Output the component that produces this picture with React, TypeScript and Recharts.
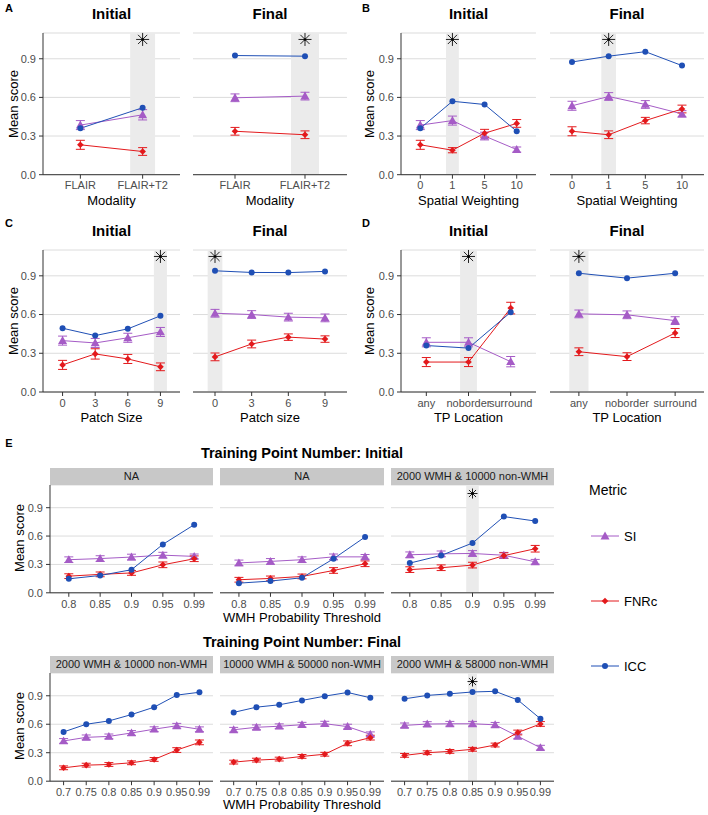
import { LineChart, Line, XAxis, YAxis, CartesianGrid, ErrorBar, ReferenceArea, ReferenceDot } from "recharts"

const FONT = "'Liberation Sans', Arial, Helvetica, sans-serif"
const BLUE = "#1f4fb5"
const PURPLE = "#a55bc6"
const RED = "#e3191c"
const INK = "#4d4d4d"
const AXIS = "#333333"

const yTicks = [0, 0.3, 0.6, 0.9]

// categories
const modality = ["FLAIR", "FLAIR+T2"]
const weighting = ["0", "1", "5", "10"]
const patch = ["0", "3", "6", "9"]
const location = ["any", "noborder", "surround"]
const thrInitial = ["0.8", "0.85", "0.9", "0.95", "0.99"]
const thrFinal = ["0.7", "0.75", "0.8", "0.85", "0.9", "0.95", "0.99"]

type Scores = { icc: number[]; si: number[]; fnrc: number[]; siErr: number[]; fnrcErr: number[] }

// A - modality
const aInitial: Scores = { icc: [0.36, 0.52], si: [0.385, 0.465], fnrc: [0.232, 0.18], siErr: [0.035, 0.04], fnrcErr: [0.035, 0.03] }
const aFinal: Scores = { icc: [0.925, 0.92], si: [0.597, 0.61], fnrc: [0.337, 0.31], siErr: [0.03, 0.03], fnrcErr: [0.03, 0.03] }

// B - spatial weighting
const bInitial: Scores = {
  icc: [0.36, 0.57, 0.545, 0.337],
  si: [0.385, 0.42, 0.3, 0.195],
  fnrc: [0.232, 0.19, 0.322, 0.398],
  siErr: [0.035, 0.035, 0.03, 0.02],
  fnrcErr: [0.035, 0.02, 0.03, 0.03],
}
const bFinal: Scores = {
  icc: [0.875, 0.92, 0.955, 0.847],
  si: [0.535, 0.607, 0.545, 0.472],
  fnrc: [0.337, 0.31, 0.42, 0.51],
  siErr: [0.035, 0.03, 0.03, 0.025],
  fnrcErr: [0.035, 0.03, 0.025, 0.03],
}

// C - patch size
const cInitial: Scores = {
  icc: [0.494, 0.437, 0.489, 0.59],
  si: [0.398, 0.38, 0.42, 0.465],
  fnrc: [0.21, 0.295, 0.256, 0.195],
  siErr: [0.035, 0.035, 0.035, 0.035],
  fnrcErr: [0.035, 0.04, 0.035, 0.03],
}
const cFinal: Scores = {
  icc: [0.939, 0.926, 0.925, 0.934],
  si: [0.61, 0.6, 0.58, 0.574],
  fnrc: [0.272, 0.372, 0.425, 0.41],
  siErr: [0.03, 0.03, 0.03, 0.03],
  fnrcErr: [0.03, 0.03, 0.025, 0.025],
}

// D - TP location
const dInitial: Scores = {
  icc: [0.36, 0.34, 0.618],
  si: [0.385, 0.385, 0.235],
  fnrc: [0.232, 0.232, 0.65],
  siErr: [0.035, 0.035, 0.04],
  fnrcErr: [0.035, 0.035, 0.045],
}
const dFinal: Scores = {
  icc: [0.92, 0.882, 0.92],
  si: [0.605, 0.598, 0.553],
  fnrc: [0.312, 0.274, 0.457],
  siErr: [0.03, 0.03, 0.03],
  fnrcErr: [0.03, 0.03, 0.035],
}

// E - training point number, initial
const eInitialNA1: Scores = {
  icc: [0.148, 0.183, 0.244, 0.512, 0.72],
  si: [0.35, 0.362, 0.378, 0.398, 0.385],
  fnrc: [0.176, 0.195, 0.21, 0.296, 0.36],
  siErr: [0.03, 0.03, 0.03, 0.03, 0.025],
  fnrcErr: [0.025, 0.025, 0.025, 0.03, 0.03],
}
const eInitialNA2: Scores = {
  icc: [0.102, 0.124, 0.159, 0.36, 0.59],
  si: [0.316, 0.332, 0.35, 0.38, 0.38],
  fnrc: [0.138, 0.152, 0.173, 0.236, 0.307],
  siErr: [0.03, 0.03, 0.03, 0.03, 0.025],
  fnrcErr: [0.025, 0.025, 0.025, 0.03, 0.03],
}
const eInitial2k10k: Scores = {
  icc: [0.314, 0.395, 0.526, 0.806, 0.759],
  si: [0.402, 0.412, 0.416, 0.397, 0.328],
  fnrc: [0.245, 0.265, 0.293, 0.393, 0.466],
  siErr: [0.03, 0.03, 0.03, 0.03, 0.025],
  fnrcErr: [0.03, 0.03, 0.03, 0.03, 0.035],
}

// E - training point number, final
const eFinal2k10k: Scores = {
  icc: [0.519, 0.6, 0.635, 0.702, 0.78, 0.907, 0.937],
  si: [0.424, 0.462, 0.472, 0.508, 0.548, 0.584, 0.547],
  fnrc: [0.141, 0.169, 0.176, 0.194, 0.229, 0.328, 0.409],
  siErr: [0.025, 0.025, 0.025, 0.025, 0.025, 0.025, 0.025],
  fnrcErr: [0.02, 0.02, 0.02, 0.02, 0.02, 0.025, 0.025],
}
const eFinal10k50k: Scores = {
  icc: [0.725, 0.78, 0.805, 0.851, 0.896, 0.935, 0.879],
  si: [0.542, 0.568, 0.579, 0.595, 0.606, 0.575, 0.494],
  fnrc: [0.201, 0.222, 0.233, 0.261, 0.284, 0.399, 0.459],
  siErr: [0.025, 0.025, 0.025, 0.025, 0.025, 0.025, 0.025],
  fnrcErr: [0.02, 0.02, 0.02, 0.02, 0.02, 0.025, 0.025],
}
const eFinal2k58k: Scores = {
  icc: [0.868, 0.904, 0.921, 0.94, 0.947, 0.856, 0.658],
  si: [0.588, 0.602, 0.605, 0.605, 0.594, 0.473, 0.353],
  fnrc: [0.272, 0.3, 0.314, 0.336, 0.381, 0.513, 0.603],
  siErr: [0.025, 0.025, 0.025, 0.025, 0.025, 0.025, 0.025],
  fnrcErr: [0.02, 0.02, 0.02, 0.02, 0.02, 0.025, 0.025],
}

const STAR_Y = 1.05

const circleDot = (p: any) => <circle key={`c${p.index}`} cx={p.cx} cy={p.cy} r={3} fill={BLUE} />

const triangleDot = (p: any) => {
  const s = 4.5
  return (
    <path
      key={`t${p.index}`}
      d={`M${p.cx},${p.cy - s}L${p.cx + s},${p.cy + s * 0.75}L${p.cx - s},${p.cy + s * 0.75}Z`}
      fill={PURPLE}
    />
  )
}

const diamondDot = (p: any) => {
  const s = 3.3
  return (
    <path
      key={`d${p.index}`}
      d={`M${p.cx},${p.cy - s}L${p.cx + s},${p.cy}L${p.cx},${p.cy + s}L${p.cx - s},${p.cy}Z`}
      fill={RED}
    />
  )
}

function Asterisk({ cx, cy, r }: { cx: number; cy: number; r: number }) {
  const d = r * Math.SQRT1_2
  return (
    <g stroke="#222" strokeWidth={1}>
      <line x1={cx - r} y1={cy} x2={cx + r} y2={cy} />
      <line x1={cx} y1={cy - r} x2={cx} y2={cy + r} />
      <line x1={cx - d} y1={cy - d} x2={cx + d} y2={cy + d} />
      <line x1={cx - d} y1={cy + d} x2={cx + d} y2={cy - d} />
      <circle cx={cx} cy={cy} r={1.2} fill="#000" stroke="none" />
    </g>
  )
}

interface FacetProps {
  x0: number
  x1: number
  top: number
  bottom: number
  cats: string[]
  d: Scores
  star?: number
  showY?: boolean
  ymax: number
  starR?: number
}

function Facet({ x0, x1, top, bottom, cats, d, star, showY = false, ymax, starR = 6.5 }: FacetProps) {
  const yw = showY ? 40 : 0
  const ml = showY ? 0 : 8
  const mr = 8
  const mt = 10
  const xh = 20
  const rows = cats.map((c, i) => ({
    x: i,
    name: c,
    icc: d.icc[i],
    si: d.si[i],
    fnrc: d.fnrc[i],
    siErr: d.siErr[i],
    fnrcErr: d.fnrcErr[i],
  }))

  return (
    <div style={{ position: "absolute", left: x0 - yw - ml, top: top - mt }}>
      <LineChart
        width={x1 - x0 + yw + ml + mr}
        height={bottom - top + mt + xh}
        data={rows}
        margin={{ top: mt, right: mr, bottom: 0, left: ml }}
        style={{ fontFamily: FONT }}
      >
        {star !== undefined && (
          <ReferenceArea x1={star - 0.2} x2={star + 0.2} fill="#ebebeb" fillOpacity={1} stroke="none" />
        )}
        <CartesianGrid vertical={false} stroke="#dcdcdc" />
        <XAxis
          type="number"
          dataKey="x"
          domain={[-0.6, cats.length - 0.4]}
          ticks={cats.map((_, i) => i)}
          tickFormatter={(v) => cats[v]}
          interval={0}
          height={xh}
          tickSize={4}
          tickMargin={3}
          stroke={AXIS}
          tick={{ fontSize: 11, fill: INK }}
          allowDataOverflow
        />
        <YAxis
          type="number"
          domain={[0, ymax]}
          ticks={yTicks}
          hide={!showY}
          width={yw}
          tickSize={4}
          tickMargin={3}
          stroke={AXIS}
          tick={{ fontSize: 11, fill: INK }}
          tickFormatter={(v) => v.toFixed(1)}
          allowDataOverflow
        />
        <Line dataKey="si" stroke={PURPLE} strokeWidth={1} dot={triangleDot} activeDot={false} isAnimationActive={false}>
          <ErrorBar dataKey="siErr" direction="y" width={4.5} stroke={PURPLE} strokeWidth={1} isAnimationActive={false} />
        </Line>
        <Line dataKey="fnrc" stroke={RED} strokeWidth={1} dot={diamondDot} activeDot={false} isAnimationActive={false}>
          <ErrorBar dataKey="fnrcErr" direction="y" width={4.5} stroke={RED} strokeWidth={1} isAnimationActive={false} />
        </Line>
        <Line dataKey="icc" stroke={BLUE} strokeWidth={1} dot={circleDot} activeDot={false} isAnimationActive={false} />
        {star !== undefined && (
          <ReferenceDot x={star} y={STAR_Y} r={starR} shape={(p: any) => <Asterisk cx={p.cx} cy={p.cy} r={starR} />} />
        )}
      </LineChart>
    </div>
  )
}

function Strip({ x0, x1, top, label }: { x0: number; x1: number; top: number; label: string }) {
  return (
    <div
      style={{
        position: "absolute",
        left: x0,
        top,
        width: x1 - x0,
        height: 17,
        background: "#c8c8c8",
        color: "#1a1a1a",
        fontFamily: FONT,
        fontSize: 11,
        display: "flex",
        alignItems: "center",
        justifyContent: "center",
        whiteSpace: "nowrap",
      }}
    >
      {label}
    </div>
  )
}

const T = (props: any) => <text textAnchor="middle" dominantBaseline="central" fontFamily={FONT} {...props} />

export default function App() {
  const L = { i0: 43, i1: 180, f0: 193, f1: 347 }
  const R = { i0: 401, i1: 536, f0: 550, f1: 704 }
  const E = [
    [50, 213],
    [220, 384],
    [391, 554],
  ]
  const ab = { top: 33.3, bottom: 175 }
  const cd = { top: 250, bottom: 392 }
  const eI = { top: 484.5, bottom: 592.3 }
  const eF = { top: 672.5, bottom: 780.7 }

  return (
    <div style={{ position: "absolute", left: 0, top: 0, width: 708, height: 815, background: "#fff", overflow: "hidden" }}>
      {/* A */}
      <Facet x0={L.i0} x1={L.i1} {...ab} cats={modality} d={aInitial} star={1} showY ymax={1.1} />
      <Facet x0={L.f0} x1={L.f1} {...ab} cats={modality} d={aFinal} star={1} ymax={1.1} />
      {/* B */}
      <Facet x0={R.i0} x1={R.i1} {...ab} cats={weighting} d={bInitial} star={1} showY ymax={1.1} />
      <Facet x0={R.f0} x1={R.f1} {...ab} cats={weighting} d={bFinal} star={1} ymax={1.1} />
      {/* C */}
      <Facet x0={L.i0} x1={L.i1} {...cd} cats={patch} d={cInitial} star={3} showY ymax={1.1} />
      <Facet x0={L.f0} x1={L.f1} {...cd} cats={patch} d={cFinal} star={0} ymax={1.1} />
      {/* D */}
      <Facet x0={R.i0} x1={R.i1} {...cd} cats={location} d={dInitial} star={1} showY ymax={1.1} />
      <Facet x0={R.f0} x1={R.f1} {...cd} cats={location} d={dFinal} star={0} ymax={1.1} />
      {/* E initial */}
      <Facet x0={E[0][0]} x1={E[0][1]} {...eI} cats={thrInitial} d={eInitialNA1} showY ymax={1.14} starR={5} />
      <Facet x0={E[1][0]} x1={E[1][1]} {...eI} cats={thrInitial} d={eInitialNA2} ymax={1.14} starR={5} />
      <Facet x0={E[2][0]} x1={E[2][1]} {...eI} cats={thrInitial} d={eInitial2k10k} star={2} ymax={1.14} starR={5} />
      {/* E final */}
      <Facet x0={E[0][0]} x1={E[0][1]} {...eF} cats={thrFinal} d={eFinal2k10k} showY ymax={1.14} starR={5} />
      <Facet x0={E[1][0]} x1={E[1][1]} {...eF} cats={thrFinal} d={eFinal10k50k} ymax={1.14} starR={5} />
      <Facet x0={E[2][0]} x1={E[2][1]} {...eF} cats={thrFinal} d={eFinal2k58k} star={3} ymax={1.14} starR={5} />

      <Strip x0={E[0][0]} x1={E[0][1]} top={467.5} label="NA" />
      <Strip x0={E[1][0]} x1={E[1][1]} top={467.5} label="NA" />
      <Strip x0={E[2][0]} x1={E[2][1]} top={467.5} label="2000 WMH & 10000 non-WMH" />
      <Strip x0={E[0][0]} x1={E[0][1]} top={655.5} label="2000 WMH & 10000 non-WMH" />
      <Strip x0={E[1][0]} x1={E[1][1]} top={655.5} label="10000 WMH & 50000 non-WMH" />
      <Strip x0={E[2][0]} x1={E[2][1]} top={655.5} label="2000 WMH & 58000 non-WMH" />

      <svg width={708} height={815} style={{ position: "absolute", left: 0, top: 0, pointerEvents: "none" }}>
        {/* panel letters */}
        <g fontWeight="bold" fontSize={11} fill="#000">
          <T x={9} y={8}>A</T>
          <T x={366} y={8}>B</T>
          <T x={9} y={223}>C</T>
          <T x={366} y={223}>D</T>
          <T x={9} y={443}>E</T>
        </g>
        {/* facet titles */}
        <g fontWeight="bold" fontSize={15} fill="#000">
          <T x={111.5} y={13}>Initial</T>
          <T x={270} y={13}>Final</T>
          <T x={468.5} y={13}>Initial</T>
          <T x={627} y={13}>Final</T>
          <T x={111.5} y={230}>Initial</T>
          <T x={270} y={230}>Final</T>
          <T x={468.5} y={230}>Initial</T>
          <T x={627} y={230}>Final</T>
          <T x={302} y={453} fontSize={14.5}>Training Point Number: Initial</T>
          <T x={302} y={642} fontSize={14.5}>Training Point Number: Final</T>
        </g>
        {/* axis titles */}
        <g fontSize={13} fill="#000">
          <T x={111.5} y={200}>Modality</T>
          <T x={270} y={200}>Modality</T>
          <T x={468.5} y={200}>Spatial Weighting</T>
          <T x={627} y={200}>Spatial Weighting</T>
          <T x={111.5} y={417}>Patch Size</T>
          <T x={270} y={417}>Patch size</T>
          <T x={468.5} y={417}>TP Location</T>
          <T x={627} y={417}>TP Location</T>
          <T x={302} y={617}>WMH Probability Threshold</T>
          <T x={302} y={804}>WMH Probability Threshold</T>
          <T transform="translate(13,104) rotate(-90)">Mean score</T>
          <T transform="translate(369,104) rotate(-90)">Mean score</T>
          <T transform="translate(13,321) rotate(-90)">Mean score</T>
          <T transform="translate(369,321) rotate(-90)">Mean score</T>
          <T transform="translate(19,538) rotate(-90)">Mean score</T>
          <T transform="translate(19,726) rotate(-90)">Mean score</T>
        </g>
        {/* legend */}
        <T x={589} y={490} textAnchor="start" fontSize={14} fill="#000">Metric</T>
        <g>
          <line x1={591} y1={536} x2={619} y2={536} stroke={PURPLE} strokeWidth={1} />
          <path d="M605,531.5L609.5,539.4L600.5,539.4Z" fill={PURPLE} />
          <T x={624} y={536} textAnchor="start" fontSize={13} fill="#000">SI</T>
          <line x1={591} y1={601} x2={619} y2={601} stroke={RED} strokeWidth={1} />
          <path d="M605,597.7L608.3,601L605,604.3L601.7,601Z" fill={RED} />
          <T x={624} y={601} textAnchor="start" fontSize={13} fill="#000">FNRc</T>
          <line x1={591} y1={666} x2={619} y2={666} stroke={BLUE} strokeWidth={1} />
          <circle cx={605} cy={666} r={3} fill={BLUE} />
          <T x={624} y={666} textAnchor="start" fontSize={13} fill="#000">ICC</T>
        </g>
      </svg>
    </div>
  )
}
